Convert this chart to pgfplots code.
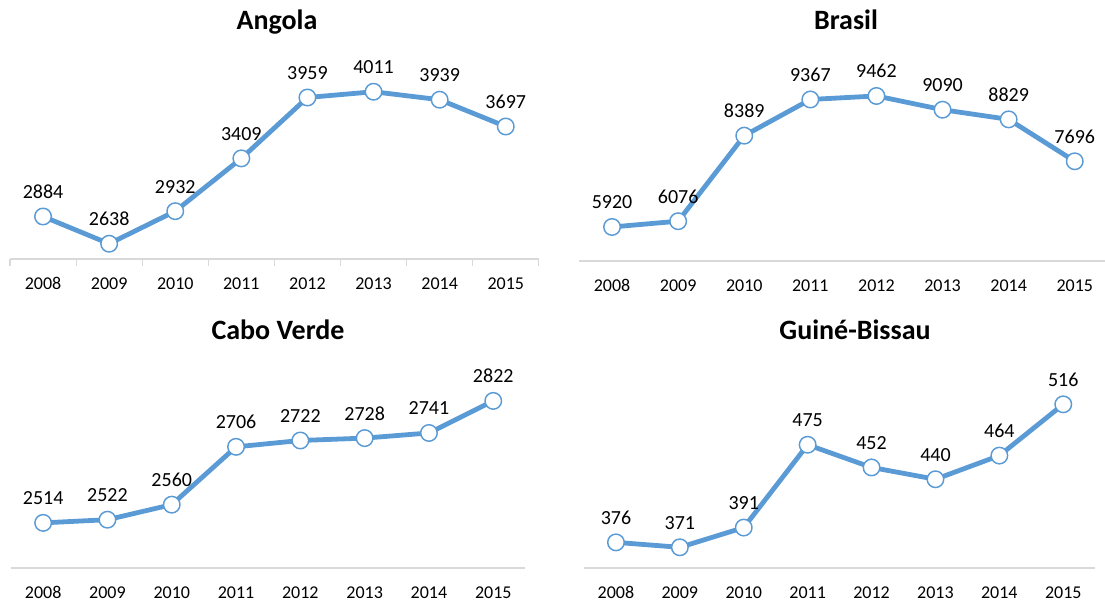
\documentclass[border=0pt]{standalone}
\usepackage{pgfplots}
\pgfplotsset{compat=1.18}
\usepackage{fontspec}
\setmainfont{Carlito}
\definecolor{lineblue}{HTML}{5B9BD5}
\definecolor{axgray}{HTML}{D9D9D9}
\pgfplotsset{
  panel/.style={
    anchor=south west, clip=false,
    xmin=-0.5, xmax=7.5,
    axis x line*=bottom, axis y line=none,
    x axis line style={axgray, line width=0.9pt, -},
    xtick={0,...,7}, xticklabels={2008,2009,2010,2011,2012,2013,2014,2015},
    major tick length=0pt,
    xticklabel style={anchor=base, yshift=-22.5pt, font=\fontsize{13.5}{14}\selectfont},
    nodes near coords={\pgfmathprintnumber[1000 sep={},assume math mode=true]{\pgfplotspointmeta}},
    every node near coord/.append style={anchor=base, yshift=13.5pt, font=\fontsize{15}{16}\selectfont, text=black},
  },
  ser/.style={lineblue, line width=3.6pt, line join=round, mark=*, mark size=6.2pt,
    mark options={fill=white, draw=lineblue, line width=1.1pt}},
}
\begin{document}
\begin{tikzpicture}
\path[use as bounding box] (0,0) rectangle (828.75pt,450.75pt);
% Angola
\begin{axis}[panel, at={(7.5pt,256.5pt)}, x=49.575pt, y=0.08303pt, ymin=2500, ymax=4300,
  extra x ticks={-0.5,0.5,1.5,2.5,3.5,4.5,5.5,6.5,7.5}, extra x tick labels={},
  extra x tick style={major tick length=5pt, tick align=outside, tick style={axgray, line width=0.9pt}}]
\addplot[ser] coordinates {(0,2884) (1,2638) (2,2932) (3,3409) (4,3959) (5,4011) (6,3939) (7,3697)};
\end{axis}
% Brasil
\begin{axis}[panel, at={(434.25pt,255pt)}, x=49.575pt, y=0.02774pt, ymin=5000, ymax=10000]
\addplot[ser] coordinates {(0,5920) (1,6076) (2,8389) (3,9367) (4,9462) (5,9090) (6,8829) (7,7696)};
\end{axis}
% Cabo Verde
\begin{axis}[panel, at={(8.25pt,24.75pt)}, x=48.225pt, y=0.297pt, ymin=2400, ymax=2900]
\addplot[ser] coordinates {(0,2514) (1,2522) (2,2560) (3,2706) (4,2722) (5,2728) (6,2741) (7,2822)};
\end{axis}
% Guine-Bissau
\begin{axis}[panel, at={(438pt,24.75pt)}, x=47.925pt, y=0.7395pt, ymin=350, ymax=560]
\addplot[ser] coordinates {(0,376) (1,371) (2,391) (3,475) (4,452) (5,440) (6,464) (7,516)};
\end{axis}
\node[font=\bfseries\fontsize{21}{21}\selectfont, anchor=base] at (207.75pt,428.25pt) {Angola};
\node[font=\bfseries\fontsize{21}{21}\selectfont, anchor=base] at (634.5pt,428.25pt) {Brasil};
\node[font=\bfseries\fontsize{21}{21}\selectfont, anchor=base] at (208.5pt,196.5pt) {Cabo Verde};
\node[font=\bfseries\fontsize{21}{21}\selectfont, anchor=base] at (641.25pt,196.5pt) {Guiné-Bissau};
\end{tikzpicture}
\end{document}
